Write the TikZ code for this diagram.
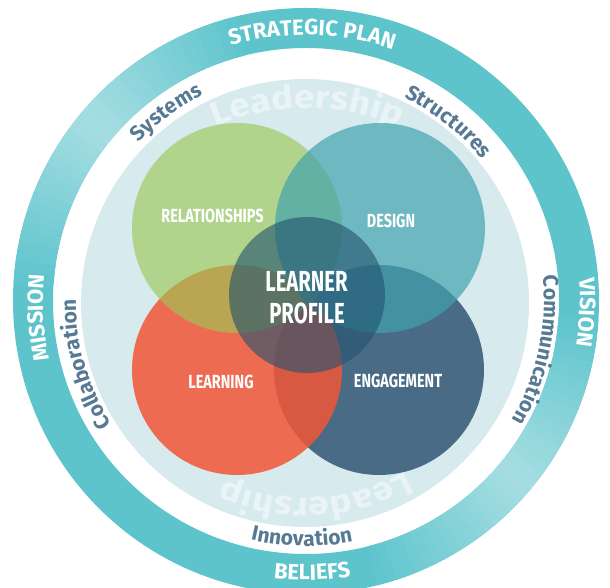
\documentclass[tikz,border=0pt]{standalone}
\usepackage{fontspec}
\setmainfont{Fira Sans}
\newfontfamily\condf[FakeStretch=0.76]{Fira Sans}
\newfontfamily\lpf[FakeStretch=0.7]{Fira Sans}
\newfontfamily\widef[FakeStretch=1.12]{Fira Sans}
\usetikzlibrary{decorations.text}
\definecolor{ringc}{RGB}{94,196,204}
\definecolor{diskc}{RGB}{215,234,238}
\definecolor{gapc}{RGB}{86,122,147}
\definecolor{leadc}{RGB}{234,244,246}
\definecolor{greenc}{RGB}{155,200,84}
\definecolor{tealc}{RGB}{65,163,174}
\definecolor{redc}{RGB}{242,87,54}
\definecolor{bluec}{RGB}{74,107,134}
\definecolor{centc}{RGB}{36,84,112}
\newcommand\ringfont{\fontsize{22}{22}\selectfont\bfseries\color{white}}
\newcommand\gapfont{\fontsize{21}{21}\selectfont\bfseries\color{gapc}}
\newcommand\leadfont{\widef\fontsize{33}{33}\selectfont\bfseries\color{leadc}}
% #1 font, #2 text, #3 radius, #4 start angle, #5 end angle
\newcommand\arcstr[5]{%
  \path[decorate, decoration={text along path, text align=center, text={|#1|#2}}]
    (#4:#3) arc[start angle=#4, end angle=#5, radius=#3];}
% same with an arc centre #6
\newcommand\arcstrc[6]{%
  \path[decorate, decoration={text along path, text align=center, text={|#1|#2}}]
    ($(#6)+(#4:#3)$) arc[start angle=#4, end angle=#5, radius=#3];}
\usetikzlibrary{calc}
\begin{document}
\begin{tikzpicture}[x=1pt,y=1pt,
  venn/.style={circle, minimum size=210pt, inner sep=0pt},
  lbl/.style={text=white, font=\condf\bfseries\fontsize{19}{19}\selectfont, anchor=base, inner sep=0pt},
  lplbl/.style={text=white, font=\lpf\bfseries\fontsize{29}{29}\selectfont, anchor=base, inner sep=0pt}]
\useasboundingbox (0,0) rectangle (610,588);
\fill[white] (0,0) rectangle (610,588);
\begin{scope}[shift={(306,287)}]
  % outer ring
  \fill[ringc, even odd rule] (0,0) circle[radius=293] (0,0) circle[radius=253];
  \foreach \p in {140,-40}{
    \foreach \d in {-36,-34,...,34}{
      \pgfmathsetmacro\aa{\p+\d}
      \pgfmathsetmacro\bb{\p+\d+2.4}
      \pgfmathtruncatemacro\w{45*(1-abs(\d+1)/37)}
      \fill[white!\w!ringc] (\aa:253) arc[start angle=\aa, end angle=\bb, radius=253]
        -- (\bb:293) arc[start angle=\bb, end angle=\aa, radius=293] -- cycle;
    }
  }
  % light disk
  \fill[diskc] (-1,-2) circle[radius=224];
  % Leadership
  \coordinate (lc) at (1,-40);
  \arcstrc{\leadfont}{Leadership}{233}{140}{40}{lc}
  \arcstr{\leadfont}{Leadership}{197}{-27}{-147}
  % Venn circles
  \node[venn, fill=bluec] (engc) at (73,-69) {};
  \node[venn, fill=redc, fill opacity=0.85] (learnc) at (-69,-69) {};
  \node[venn, fill=greenc, fill opacity=0.64] (relc) at (-69,73) {};
  \node[venn, fill=tealc, fill opacity=0.7] (desc) at (74,73) {};
  \node[circle, minimum size=156pt, inner sep=0pt, fill=centc, fill opacity=0.62] (lpc) at (1,6) {};
  % labels
  \node[lbl] (rel) at (-93.5,78) {RELATIONSHIPS};
  \node[lbl] (des) at (85,73) {DESIGN};
  \node[lbl] (lea) at (-85,-88) {LEARNING};
  \node[lbl] (eng) at (92,-87) {ENGAGEMENT};
  \node[lplbl] (lp1) at (0.5,9) {LEARNER};
  \node[lplbl] (lp2) at (1,-23) {PROFILE};
  % ring texts
  \arcstr{\ringfont}{STRATEGIC PLAN}{266}{148.7}{28.7}
  \arcstr{\ringfont}{MISSION}{263}{243.6}{123.6}
  \arcstr{\ringfont}{VISION}{274}{57.7}{-62.3}
  \arcstr{\ringfont}{BELIEFS}{279}{-148.7}{-28.7}
  % gap texts
  \arcstr{\gapfont}{Systems}{230}{166.5}{86.5}
  \arcstr{\gapfont}{Structures}{226}{91.5}{11.5}
  \arcstr{\gapfont}{Collaboration}{230}{256}{136}
  \arcstr{\gapfont}{Communication}{238}{48}{-72}
  \arcstr{\gapfont}{Innovation}{245}{-151}{-31}
\end{scope}
\end{tikzpicture}
\end{document}
